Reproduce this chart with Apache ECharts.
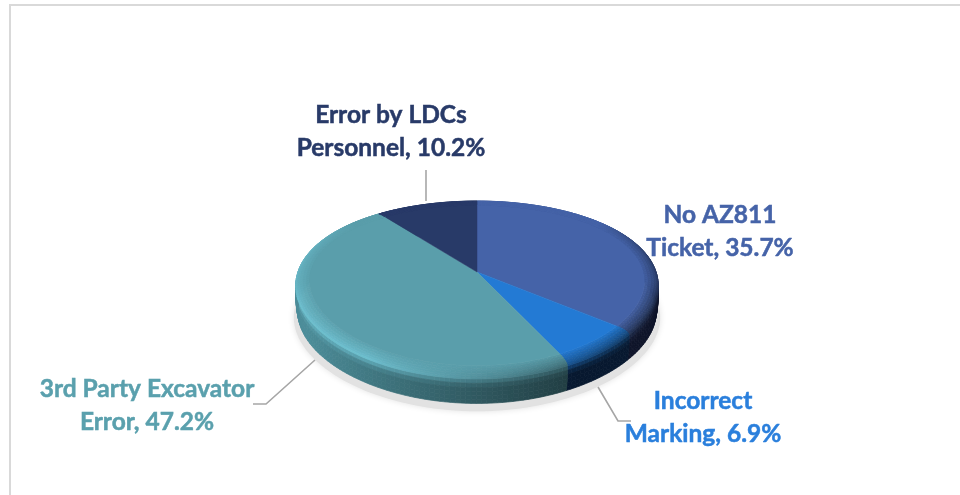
<!DOCTYPE html>
<html>
<head>
<meta charset="utf-8">
<title>Pie</title>
<script src="https://cdn.jsdelivr.net/npm/echarts@6/dist/echarts.min.js"></script>
<style>
  html,body{margin:0;padding:0;background:#fff;}
  #pieChart{width:960px;height:495px;}
</style>
</head>
<body>
<div id="pieChart"></div>
<script>
var categories = ['No AZ811\nTicket', 'Incorrect\nMarking', '3rd Party Excavator\nError', 'Error by LDCs\nPersonnel'];
var values = [35.7, 6.9, 47.2, 10.2];
var faceColors = ['#4563A8', '#237AD4', '#5A9EAB', '#283A68'];
var sideColors = ['#242F62', '#103A70', '#4C8D99', '#1D2A4E'];
var textColors = ['#4563A8', '#2A7FDC', '#5AA0AD', '#283A68'];

// where the labels sit, and the elbow of each leader line
var labelPos = [[720, 231.5], [703, 418], [147, 406], [391, 132]];
var leaderLines = [
  null,
  [[598, 387], [618, 421], [631, 421]],
  [[315, 360], [266, 404], [253, 404]],
  [[426, 170], [426, 201]]
];

// tilted disc, apex of the slices is not the middle of the ellipse
var cx = 477, apexY = 272, radX = 180, radY = 84, perspX = 0.12, perspY = 0.184;
var bevelIn = 0.925, bevelDepth = 4, sideDepth = 30;

function project(r, ang, depth){
  var u = Math.sin(ang) * r, v = -Math.cos(ang) * r;
  var sx = 1 / (1 - perspX * v), sy = 1 / (1 - perspY * v);
  return [cx + radX * u * sx, apexY + radY * v * sy + depth];
}
function hexRgb(c){
  return [parseInt(c.substr(1,2),16), parseInt(c.substr(3,2),16), parseInt(c.substr(5,2),16)];
}
function mix(a, b, t){
  return [a[0]+(b[0]-a[0])*t, a[1]+(b[1]-a[1])*t, a[2]+(b[2]-a[2])*t];
}
function scale(a, f){
  return [Math.min(255,a[0]*f), Math.min(255,a[1]*f), Math.min(255,a[2]*f)];
}
function css(a){
  return 'rgb(' + Math.round(a[0]) + ',' + Math.round(a[1]) + ',' + Math.round(a[2]) + ')';
}
function clamp(x){ return Math.max(0, Math.min(1, x)); }

// brightness of the rounded rim, light comes from the lower left
function rimColor(face, ang){
  var u = Math.sin(ang), v = -Math.cos(ang);
  var f = 1.2 - 0.75 * clamp((u + 0.55) / 1.4);
  var front = clamp((v + 0.35) / 0.6);
  return scale(face, 1 + (f - 1) * Math.max(front, clamp(Math.abs(u) - 0.75) * 3));
}
function sideColor(side, ang){
  var u = Math.sin(ang);
  return scale(side, 1 - 0.58 * clamp((u + 0.9) / 1.4));
}

// rim bands, from the edge of the flat top down to the bottom of the wall
var bandStops = [];
var BEVEL_BANDS = 6, SIDE_BANDS = 6;
for (var b = 0; b <= BEVEL_BANDS; b++) {
  var t = b / BEVEL_BANDS;
  bandStops.push({r: bevelIn + (1 - bevelIn) * Math.sin(t * Math.PI / 2), d: bevelDepth * t * t, kind: 'bevel', t: t});
}
for (var b = 1; b <= SIDE_BANDS; b++) {
  var t = b / SIDE_BANDS;
  bandStops.push({r: 1 - 0.012 * t * t * t, d: bevelDepth + (sideDepth - bevelDepth) * t, kind: 'side', t: t});
}

function bandColor(stop, face, side, ang){
  if (stop.kind == 'bevel') {
    return mix(face, rimColor(face, ang), stop.t);
  }
  return mix(rimColor(face, ang), sideColor(side, ang), clamp(stop.t / 0.4));
}

// the bevel has no drop at the back of the disc, it only shows toward the viewer
function rimDepth(stop, ang){
  if (stop.kind == 'side') return stop.d;
  return stop.d * clamp((1 - Math.cos(ang)) / 1.2);
}

function startAngle(idx){
  var total = 0, before = 0;
  for (var i = 0; i < values.length; i++) {
    if (i < idx) before += values[i];
    total += values[i];
  }
  return before / total * Math.PI * 2;
}

function renderSlice(params, api){
  var idx = params.dataIndex;
  var a0 = startAngle(idx);
  var a1 = idx == values.length - 1 ? Math.PI * 2 : startAngle(idx + 1);
  var face = hexRgb(faceColors[idx]), side = hexRgb(sideColors[idx]);
  var children = [];
  var stepCount = Math.max(2, Math.ceil((a1 - a0) / (Math.PI / 120)));
  var da = (a1 - a0) / stepCount;

  // wall and rim
  for (var s = 0; s < stepCount; s++) {
    var p = a0 + s * da, q = p + da, mid = p + da / 2;
    for (var j = 0; j < bandStops.length - 1; j++) {
      var st = bandStops[j], en = bandStops[j + 1];
      var col = css(bandColor(en, face, side, mid));
      children.push({
        type: 'polygon',
        z2: en.kind == 'side' ? 1 : 2,
        shape: {points: [
          project(st.r, p, rimDepth(st, p)), project(st.r, q, rimDepth(st, q)),
          project(en.r, q, rimDepth(en, q)), project(en.r, p, rimDepth(en, p))
        ]},
        style: {fill: col, stroke: col, lineWidth: 0.7}
      });
    }
  }

  // flat top of the slice
  var pts = [[cx, apexY]];
  for (var s = 0; s <= stepCount; s++) {
    pts.push(project(bevelIn, a0 + s * da, 0));
  }
  children.push({
    type: 'polygon',
    z2: 3,
    shape: {points: pts},
    style: {fill: faceColors[idx], stroke: faceColors[idx], lineWidth: 0.5}
  });

  // leader line and label
  if (leaderLines[idx]) {
    children.push({
      type: 'polyline',
      z2: 0,
      shape: {points: leaderLines[idx]},
      style: {fill: null, stroke: '#A6A6A6', lineWidth: 1.6}
    });
  }
  children.push({
    type: 'text',
    z2: 5,
    x: labelPos[idx][0],
    y: labelPos[idx][1],
    style: {
      text: api.value(1) + ', ' + api.value(0).toFixed(1) + '%',
      fill: textColors[idx],
      stroke: textColors[idx],
      lineWidth: 0.5,
      font: 'bold 24.5px Lato',
      lineHeight: 33,
      align: 'center',
      verticalAlign: 'middle'
    }
  });
  return {type: 'group', children: children};
}

function renderShadow(){
  var pts = [];
  for (var i = 0; i < 180; i++) {
    pts.push(project(1.01, i / 180 * Math.PI * 2, sideDepth + 5));
  }
  return {
    type: 'polygon',
    shape: {points: pts},
    style: {fill: '#E2E2E2', shadowBlur: 6, shadowColor: '#E2E2E2'}
  };
}

var sliceData = [];
for (var i = 0; i < values.length; i++) {
  sliceData.push({value: [values[i], categories[i]], name: categories[i]});
}

var pieChart = echarts.init(document.getElementById('pieChart'));
pieChart.setOption({
  animation: false,
  graphic: [{
    type: 'polyline',
    shape: {points: [[10, 495], [10, 5], [960, 5]]},
    style: {fill: null, stroke: '#D9D9D9', lineWidth: 2}
  }],
  series: [
    {
      type: 'custom',
      coordinateSystem: 'none',
      silent: true,
      z: 1,
      data: [0],
      renderItem: renderShadow
    },
    {
      type: 'custom',
      coordinateSystem: 'none',
      silent: true,
      z: 2,
      data: sliceData,
      renderItem: renderSlice
    }
  ]
});
</script>
</body>
</html>
